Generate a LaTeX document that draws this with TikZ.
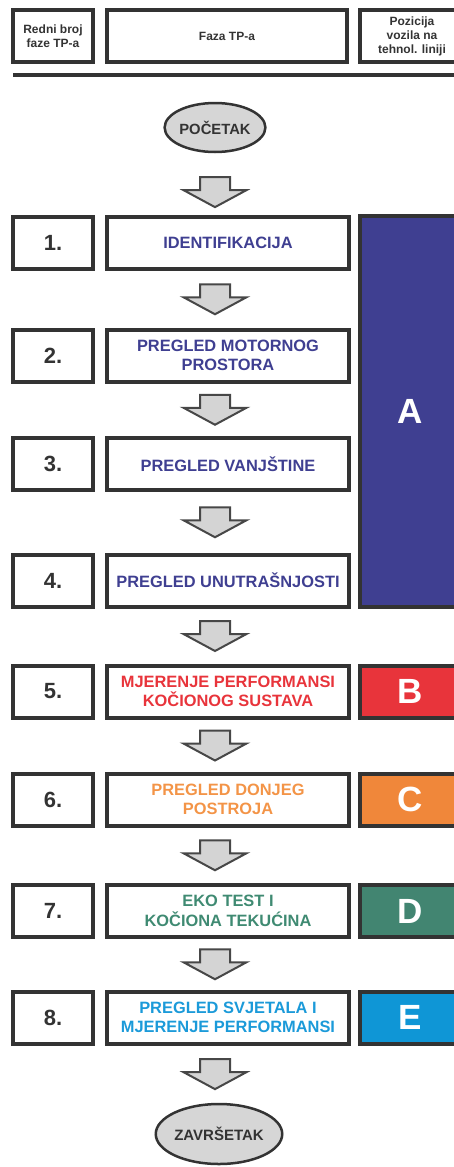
\documentclass[tikz,border=0pt]{standalone}
\usepackage{fontspec}
\setmainfont{Liberation Sans}
\usetikzlibrary{shapes.geometric,calc}

\definecolor{frame}{HTML}{333333}
\definecolor{arrowfill}{HTML}{D4D4D4}
\definecolor{ovalfill}{HTML}{D6D6D6}
\definecolor{grpA}{HTML}{3F3F91}
\definecolor{grpB}{HTML}{E8343B}
\definecolor{grpC}{HTML}{F0873A}
\definecolor{grpD}{HTML}{428571}
\definecolor{grpE}{HTML}{0F96D6}
\definecolor{txtC}{HTML}{F39447}
\definecolor{txtD}{HTML}{3F8A72}
\definecolor{txtE}{HTML}{1B9AD9}

% block arrow between two nodes, on the axis of the start oval
\newcommand{\flowarrow}[3][0]{%
  \coordinate (m) at ($(#2.south)!0.5!(#3.north)$);
  \coordinate (c) at (m -| start);
  \draw[arrowbox] ($(c)+(-15,-15+#1)$) -- ++(30,0) -- ++(0,13) -- ++(16.5,0)
    -- ++(-31.5,17) -- ++(-31.5,-17) -- ++(16.5,0) -- cycle;
}

\begin{document}
\begin{tikzpicture}[x=1pt,y=-1pt,
  hdrbox/.style={draw=frame,line width=4,inner sep=0,minimum height=52,
    align=center,text=frame,font=\fontsize{12}{14}\selectfont\bfseries},
  numbox/.style={draw=frame,line width=4,inner sep=0,minimum width=80,minimum height=52,
    text=frame,font=\fontsize{22}{24}\selectfont\bfseries},
  phasebox/.style={draw=frame,line width=4,inner sep=0,minimum width=242,minimum height=52,
    align=center,font=\fontsize{16.4}{19.5}\selectfont\bfseries},
  grpbox/.style={draw=frame,line width=4,inner sep=0,minimum width=100,minimum height=52,
    text=white,font=\fontsize{35}{36}\selectfont\bfseries},
  term/.style={ellipse,draw=frame,line width=2.5,fill=ovalfill,inner sep=0,
    text=frame,font=\fontsize{14.8}{16}\selectfont\bfseries},
  arrowbox/.style={draw=frame!90,line width=2,fill=arrowfill,line join=miter}]

\useasboundingbox (0,0) rectangle (454,1167);
\clip (0,0) rectangle (454,1167);

% header
\node[hdrbox,minimum width=80] (h1) at (53,36) {Redni broj\\faze TP-a};
\node[hdrbox,minimum width=240] (h2) at (227,36) {Faza TP-a};
\node[hdrbox,minimum width=104] (h3) at (412,36) {Pozicija\\vozila na\\tehnol. liniji};
\draw[frame,line width=4.5] (13,75) -- (454,75); % rule

% start
\node[term,minimum width=94,minimum height=49] (start) at (215,127.5) {POČETAK};

% rows
\node[numbox] (n1) at (53,243) {1.};
\node[phasebox,text=grpA] (t1) at (228,243) {IDENTIFIKACIJA};

\node[numbox] (n2) at (53,355.5) {2.};
\node[phasebox,text=grpA] (t2) at (228,355.5) {PREGLED MOTORNOG\\PROSTORA};

\node[numbox] (n3) at (53,464) {3.};
\node[phasebox,text=grpA] (t3) at (228,464) {PREGLED VANJŠTINE};

\node[numbox] (n4) at (53,580.5) {4.};
\node[phasebox,text=grpA] (t4) at (228,580.5) {PREGLED UNUTRAŠNJOSTI};

\node[numbox] (n5) at (53,691.5) {5.};
\node[phasebox,text=grpB] (t5) at (228,691.5) {MJERENJE PERFORMANSI\\KOČIONOG SUSTAVA};

\node[numbox] (n6) at (53,799.5) {6.};
\node[phasebox,text=txtC] (t6) at (228,799.5) {PREGLED DONJEG\\POSTROJA};

\node[numbox] (n7) at (53,911) {7.};
\node[phasebox,text=txtD] (t7) at (228,911) {EKO TEST I\\KOČIONA TEKUĆINA};

\node[numbox] (n8) at (53,1017.5) {8.};
\node[phasebox,text=txtE] (t8) at (228,1017.5) {PREGLED SVJETALA I\\MJERENJE PERFORMANSI};

% position on the line
\node[grpbox,fill=grpA,minimum height=391] (A) at (410,411.5) {A};
\node[grpbox,fill=grpB] (B) at (410,691.5) {B};
\node[grpbox,fill=grpC] (C) at (410,799.5) {C};
\node[grpbox,fill=grpD] (D) at (410,911) {D};
\node[grpbox,fill=grpE] (E) at (410,1017.5) {E};

% end
\node[term,minimum width=106,minimum height=60,font=\fontsize{15}{16}\selectfont\bfseries] (end) at (219,1134) {ZAVRŠETAK};

% arrows
\flowarrow[8]{start}{t1}
\flowarrow{t1}{t2}
\flowarrow{t2}{t3}
\flowarrow{t3}{t4}
\flowarrow{t4}{t5}
\flowarrow{t5}{t6}
\flowarrow{t6}{t7}
\flowarrow{t7}{t8}
\flowarrow{t8}{end}

\end{tikzpicture}
\end{document}
